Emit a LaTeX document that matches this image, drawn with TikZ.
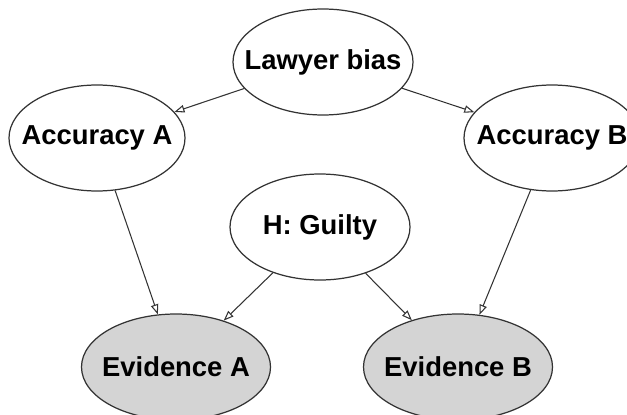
\documentclass[tikz,border=0pt]{standalone}
\usepackage{fontspec}
\setmainfont{Liberation Sans}
\usepackage{tikz}
\usetikzlibrary{arrows.meta,shapes.geometric}
\newcommand{\nlbl}[1]{\makebox[0pt]{#1}}
\tikzset{bn/.style={ellipse,draw=black!80,line width=.7pt,fill=white,minimum height=2.12cm,inner sep=0pt,font=\fontsize{15.6}{18}\selectfont\bfseries},
  obs/.style={bn,fill=black!17},
  dep/.style={draw=black!80,line width=.6pt,-{Triangle[open,length=2mm,width=1.5mm]}}}

\begin{document}
\begin{tikzpicture}
\useasboundingbox(0,0)rectangle(12.54,8.28);
\node[bn,minimum width=3.6cm](lb)at(6.46,7.04){\nlbl{Lawyer bias}};
\node[bn,minimum width=3.52cm](acca)at(1.94,5.52){\nlbl{Accuracy A}};\node[bn,minimum width=3.52cm](accb)at(11.04,5.52){\nlbl{Accuracy B}};
\node[bn,minimum width=3.6cm](hg)at(6.4,3.74){\nlbl{H: Guilty}};
\node[obs,minimum width=3.78cm](eva)at(3.52,.94){\nlbl{Evidence A}};\node[obs,minimum width=3.78cm](evb)at(9.16,.94){\nlbl{Evidence B}};
\draw[dep](lb)--(acca);\draw[dep](lb)--(accb);
\draw[dep](acca)--(eva);\draw[dep](accb)--(evb);\draw[dep](hg)--(eva);\draw[dep](hg)--(evb);
\end{tikzpicture}
\end{document}
